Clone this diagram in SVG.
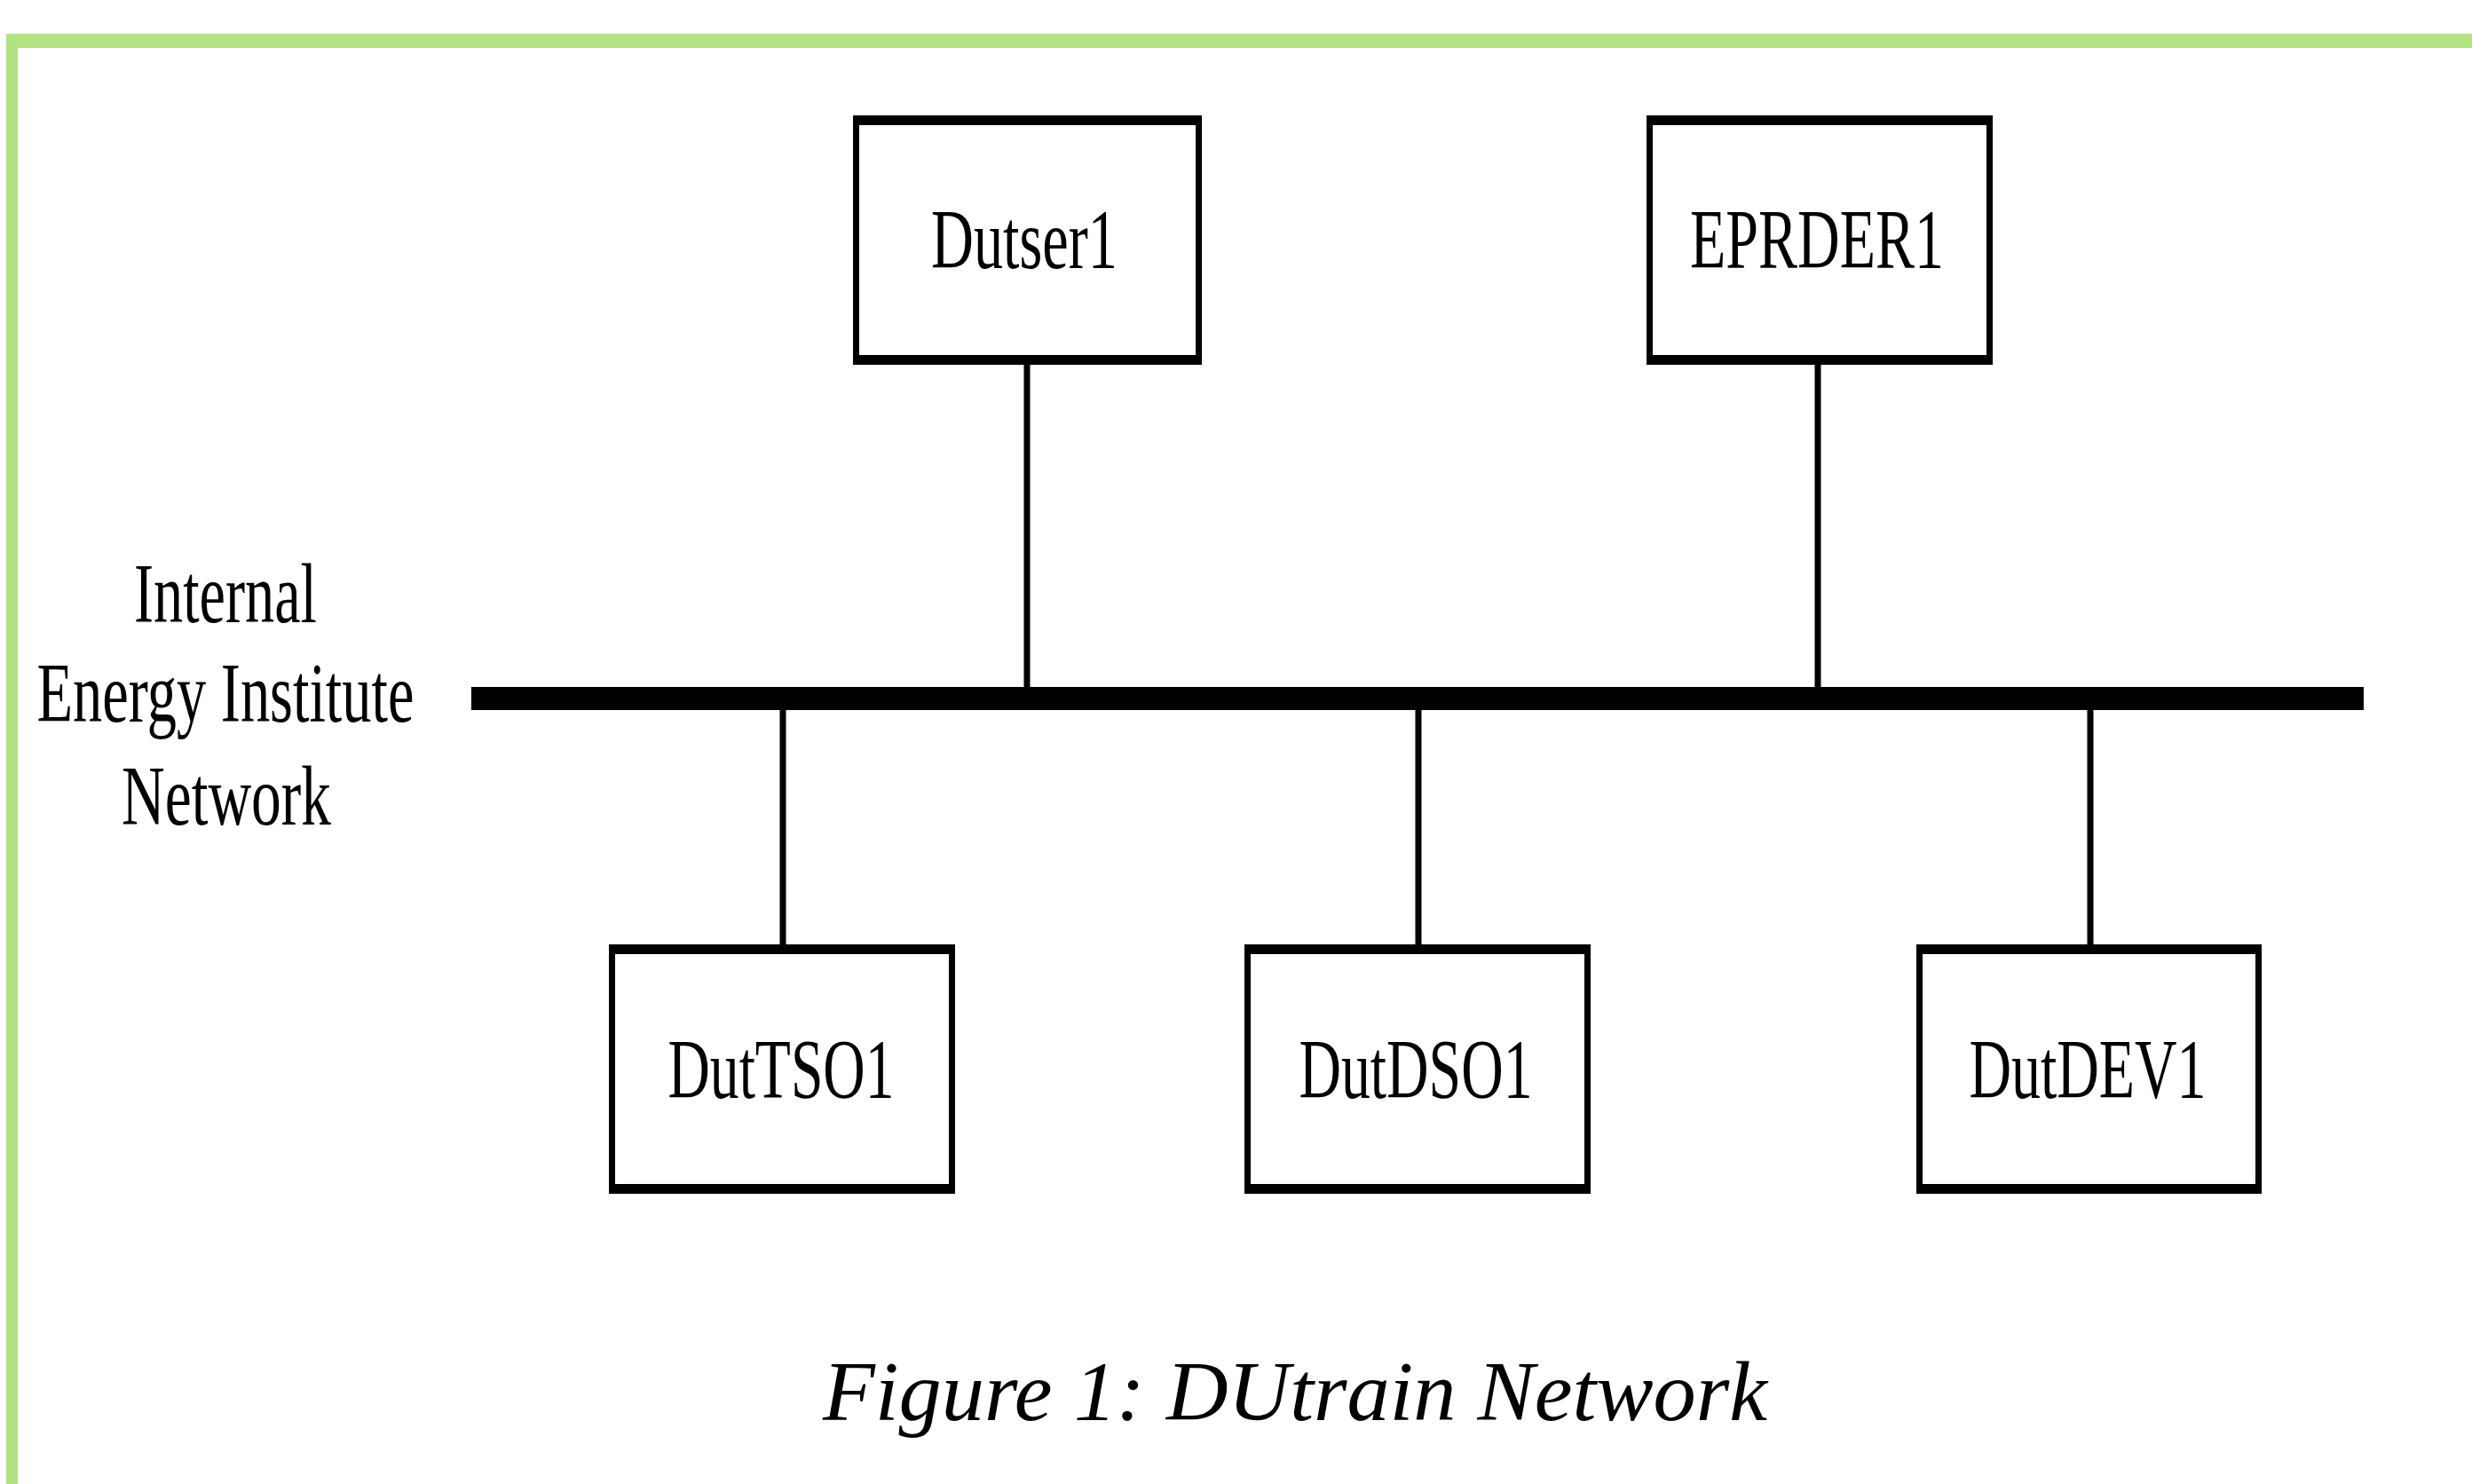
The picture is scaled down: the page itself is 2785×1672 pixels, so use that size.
<svg xmlns="http://www.w3.org/2000/svg" width="2785" height="1672" viewBox="0 0 2785 1672">
<style>
.frame{fill:#b1e480}
.outer{fill:#000}
.inner{fill:#fff}
.lbl{font-family:"Liberation Serif","Times New Roman",serif;font-size:95px;fill:#000;text-anchor:middle}
.cap{font-family:"Liberation Serif","Times New Roman",serif;font-size:96px;font-style:italic;fill:#000}
.wire{stroke:#000;stroke-width:7;fill:none}
.bus{fill:#000}
</style>
<rect width="2785" height="1672" fill="#fff"/>
<g id="frame">
<rect class="frame" x="7" y="38" width="2778" height="16"/>
<rect class="frame" x="7" y="38" width="13" height="1634"/>
</g>
<g id="connectors">
<rect id="bus" class="bus" x="531" y="774" width="2132" height="26"/>
<line class="wire" x1="1157" y1="411" x2="1157" y2="774"/>
<line class="wire" x1="2048" y1="411" x2="2048" y2="774"/>
<line class="wire" x1="882" y1="800" x2="882" y2="1064"/>
<line class="wire" x1="1598" y1="800" x2="1598" y2="1064"/>
<line class="wire" x1="2355" y1="800" x2="2355" y2="1064"/>
</g>
<g id="network-label">
<text class="lbl" x="254" y="701" textLength="206" lengthAdjust="spacingAndGlyphs">Internal</text>
<text class="lbl" x="254" y="813" textLength="425" lengthAdjust="spacingAndGlyphs">Energy Institute</text>
<text class="lbl" x="255" y="929" textLength="236" lengthAdjust="spacingAndGlyphs">Network</text>
</g>
<g id="node-dutser1">
<rect class="outer" x="961" y="130" width="393" height="281"/>
<rect class="inner" x="968" y="141" width="379" height="259"/>
<text class="lbl" x="1154" y="302" textLength="210" lengthAdjust="spacingAndGlyphs">Dutser1</text>
</g>
<g id="node-eprder1">
<rect class="outer" x="1855" y="130" width="390" height="281"/>
<rect class="inner" x="1862" y="141" width="376" height="259"/>
<text class="lbl" x="2047" y="302" textLength="286" lengthAdjust="spacingAndGlyphs">EPRDER1</text>
</g>
<g id="node-duttso1">
<rect class="outer" x="686" y="1064" width="390" height="281"/>
<rect class="inner" x="693" y="1075" width="376" height="259"/>
<text class="lbl" x="880" y="1237" textLength="255" lengthAdjust="spacingAndGlyphs">DutTSO1</text>
</g>
<g id="node-dutdso1">
<rect class="outer" x="1402" y="1064" width="390" height="281"/>
<rect class="inner" x="1409" y="1075" width="376" height="259"/>
<text class="lbl" x="1595" y="1237" textLength="263" lengthAdjust="spacingAndGlyphs">DutDSO1</text>
</g>
<g id="node-dutdev1">
<rect class="outer" x="2159" y="1064" width="389" height="281"/>
<rect class="inner" x="2166" y="1075" width="375" height="259"/>
<text class="lbl" x="2352" y="1237" textLength="267" lengthAdjust="spacingAndGlyphs">DutDEV1</text>
</g>
<g id="caption">
<text class="cap" x="927" y="1600" textLength="1064" lengthAdjust="spacingAndGlyphs">Figure 1: DUtrain Network</text>
</g>
</svg>
